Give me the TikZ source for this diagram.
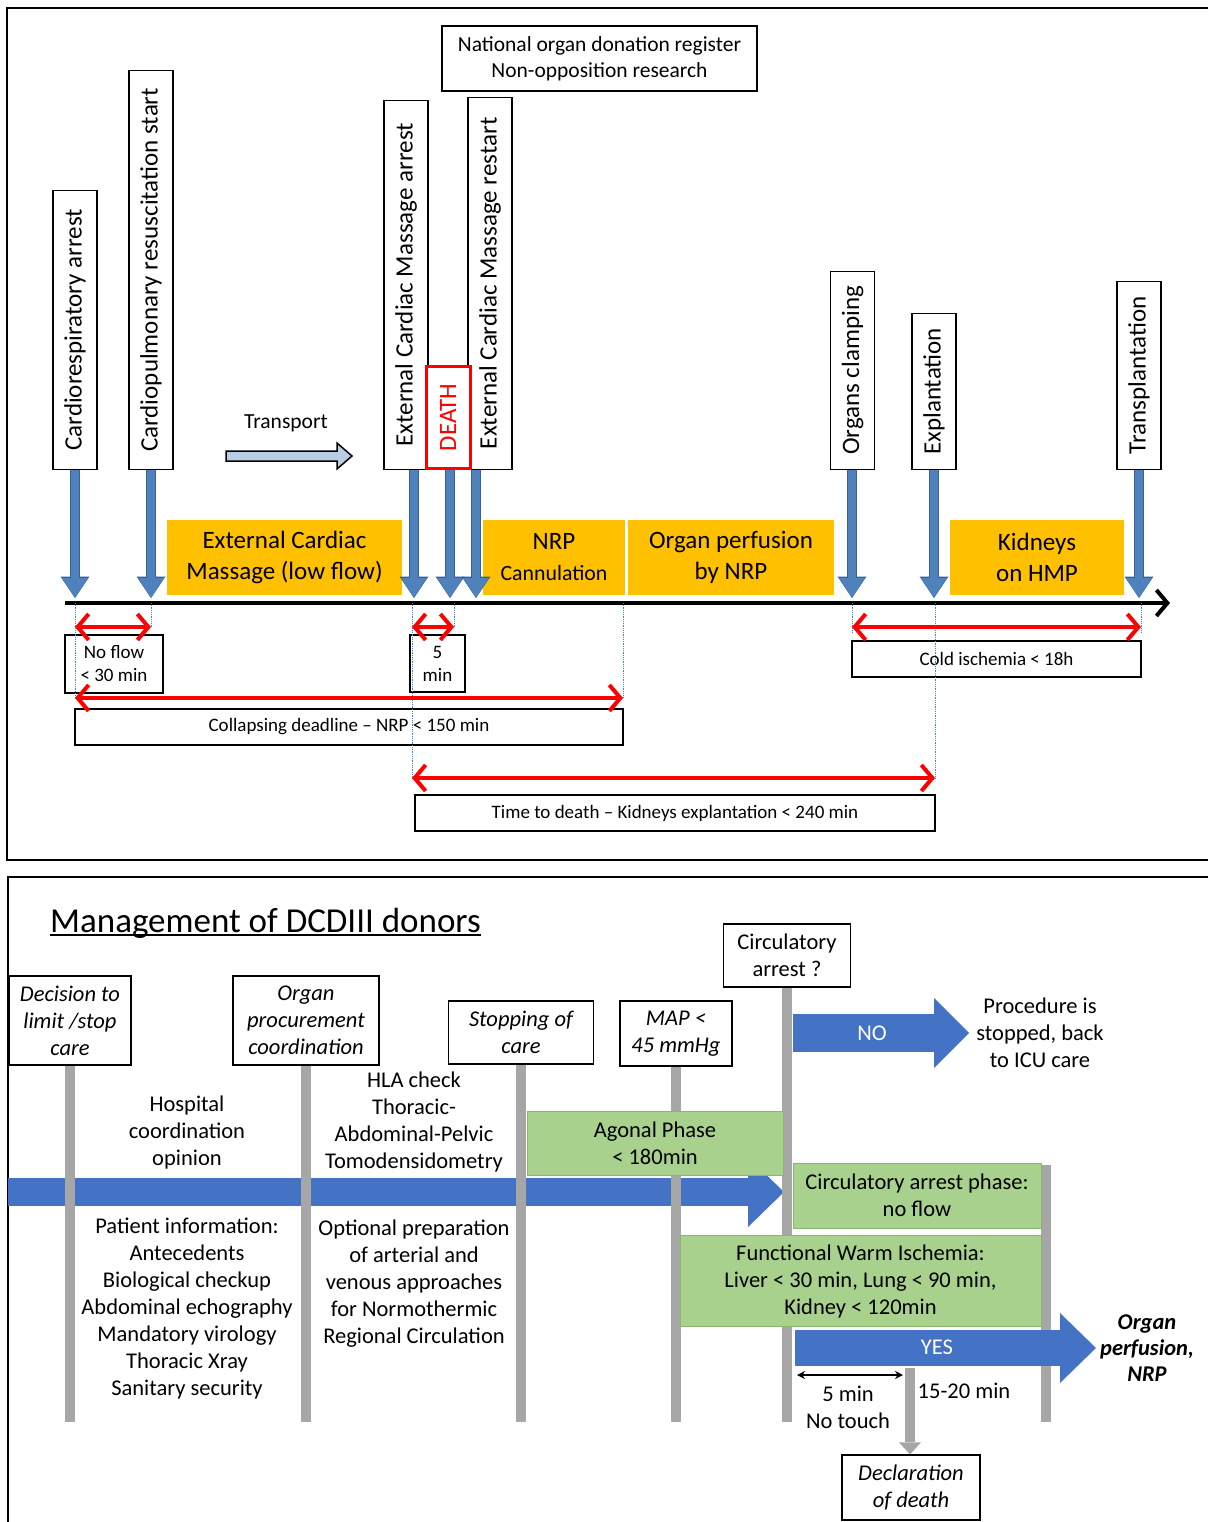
\documentclass[tikz,border=0pt]{standalone}
\usepackage{fontspec}
\setmainfont{Carlito}
\usetikzlibrary{arrows.meta}
\definecolor{tlblue}{HTML}{4F81BD}
\definecolor{tledge}{HTML}{3A6090}
\definecolor{phaseyellow}{HTML}{FFC000}
\definecolor{flowblue}{HTML}{4472C4}
\definecolor{phasegreen}{HTML}{A9D18E}
\definecolor{greenedge}{HTML}{8CB56F}
\definecolor{postgrey}{HTML}{A6A6A6}
\definecolor{transpblue}{HTML}{B9CDE5}

\begin{document}
\begin{tikzpicture}[x=1pt,y=-1pt,
    event/.style={draw,line width=1.3pt,fill=white,rotate=90,anchor=west,minimum height=44pt,inner sep=0pt,font=\fontsize{25}{30}\selectfont},
    drop/.style={tlblue,line width=8pt,-{Triangle[length=20pt,width=26pt,line width=0pt]},
      preaction={draw=tledge,line width=10pt,-{Triangle[length=21.5pt,width=29pt,line width=0pt]}}},
    phase/.style={fill=phaseyellow,align=center,inner sep=0pt,minimum height=75pt,font=\fontsize{25}{31}\selectfont},
    span/.style={red,line width=4pt,{Straight Barb[length=11pt,width=26pt]}-{Straight Barb[length=11pt,width=26pt]}},
    guide/.style={tlblue,line width=0.8pt,densely dotted},
    limit/.style={draw,line width=1.3pt,fill=white,align=center,inner sep=0pt,font=\fontsize{19}{23}\selectfont},
    stage/.style={draw,line width=1.2pt,fill=white,align=center,inner sep=0pt,font=\fontsize{22.5}{27}\selectfont\itshape},
    post/.style={postgrey,line width=10pt},
    window/.style={fill=phasegreen,draw=greenedge,line width=0.8pt,align=center,inner sep=0pt,font=\fontsize{22.5}{27}\selectfont},
    note/.style={align=center,inner sep=0pt,font=\fontsize{22.5}{27}\selectfont},
    flow/.style={flowblue,line width=#1},
    flow/.default=38pt]

  \useasboundingbox (0,0) rectangle (1208,1522);
  \draw[line width=1.5pt] (1208,8) -- (7,8) -- (7,860) -- (1208,860);
  \draw[line width=1.5pt] (1208,877) -- (8,877) -- (8,1522);

  \node[limit,minimum width=315pt,minimum height=65pt,font=\fontsize{21.5}{26}\selectfont] (reg) at (599.5,58.5) {National organ donation register\\Non-opposition research};

  \node[event,minimum width=279pt] (cra)  at (75,470)   {Cardiorespiratory arrest};
  \node[event,minimum width=399pt] (cpr)  at (151,470)  {Cardiopulmonary resuscitation start};
  \node[event,minimum width=369pt] (ecma) at (406,470)  {External Cardiac Massage arrest};
  \node[event,minimum width=372pt] (ecmr) at (490,470)  {External Cardiac Massage restart};
  \node[event,minimum width=102pt,draw=red,line width=3pt,text=red] (death) at (448,470) {DEATH};
  \node[event,minimum width=198pt] (clamp) at (852.5,470) {Organs clamping};
  \node[event,minimum width=156pt] (expl)  at (934,470)   {Explantation};
  \node[event,minimum width=188pt] (trans) at (1139,470)  {Transplantation};

  \node[font=\fontsize{21.5}{26}\selectfont] (trp) at (286,423) {Transport};
  \draw[line width=1.5pt,fill=transpblue] (226,451) -- (337,451) -- (337,443) -- (352,456)
    -- (337,469) -- (337,461) -- (226,461) -- cycle;

  \node[phase,minimum width=235pt] (ecm)  at (284.5,557.5) {External Cardiac\\Massage (low flow)};
  \node[phase,minimum width=142pt] (nrpc) at (554,557.5)   {NRP\\{\fontsize{21.8}{31}\selectfont Cannulation}};
  \node[phase,minimum width=206pt] (opn)  at (731,557.5)   {Organ perfusion\\by NRP};
  \node[phase,minimum width=174pt] (hmp)  at (1037,557.5)  {Kidneys\\on HMP};

  \foreach \n/\x in {d1/75,d2/151,d3/414,d4/450,d5/476,d6/852,d7/934,d8/1139}
    \coordinate (\n) at (\x,598);
  \draw[drop] (d1 |- cra.west) -- (d1);
  \draw[drop] (d2 |- cpr.west) -- (d2);
  \draw[drop] (d3 |- ecma.west) -- (d3);
  \draw[drop] (d4 |- death.west) -- (d4);
  \draw[drop] (d5 |- ecmr.west) -- (d5);
  \draw[drop] (d6 |- clamp.west) -- (d6);
  \draw[drop] (d7 |- expl.west) -- (d7);
  \draw[drop] (d8 |- trans.west) -- (d8);

  \coordinate (t0) at (65,603);
  \coordinate (t1) at (1170,603);
  \draw[line width=4pt,-{Straight Barb[length=11pt,width=26pt]}] (t0) -- (t1);

  \node[limit,minimum width=98pt,minimum height=58pt]  (nf) at (114,664)   {No flow\\< 30 min};
  \node[limit,minimum width=55pt,minimum height=57pt]  (fm) at (437.5,663.5) {5\\min};
  \node[limit,minimum width=548pt,minimum height=36pt] (cd) at (349,727)   {Collapsing deadline -- NRP < 150 min};
  \node[limit,minimum width=289pt,minimum height=36pt] (ci) at (996.5,659) {Cold ischemia < 18h};
  \node[limit,minimum width=520pt,minimum height=36pt] (td) at (675,813)   {Time to death -- Kidneys explantation < 240 min};

  \foreach \n/\x in {a/75,b/151,c/412,d/454,e/623,f/852,g/935,h/1141}
    \coordinate (\n) at (\x,603);
  \coordinate (r1) at (0,627);
  \coordinate (r2) at (0,698);
  \coordinate (r3) at (0,778);
  \draw[guide] (a) -- (a |- r2);
  \draw[guide] (b) -- (b |- r1);
  \draw[guide] (c) -- (c |- r3);
  \draw[guide] (d) -- (d |- r1);
  \draw[guide] (e) -- (e |- r2);
  \draw[guide] (f) -- ([yshift=-6pt]f |- r1);
  \draw[guide] (g) -- (g |- r3);
  \draw[guide] (h) -- ([yshift=-6pt]h |- r1);

  \draw[span] (a |- r1) -- (b |- r1);
  \draw[span] (c |- r1) -- (d |- r1);
  \draw[span] (a |- r2) -- (e |- r2);
  \draw[span] (f |- r1) -- (h |- r1);
  \draw[span] (c |- r3) -- (g |- r3);

  \node[anchor=base west,inner sep=0pt,font=\fontsize{35}{42}\selectfont] (ttl) at (50,932) {Management of DCDIII donors};
  \draw[line width=1.6pt] ([yshift=-3pt]ttl.base west) -- ([yshift=-3pt]ttl.base east);

  \coordinate (fs) at (8,1192);
  \coordinate (ft) at (784,1192);
  \draw[flow=28pt,-{Triangle[length=36pt,width=70pt,line width=0pt]}] (fs) -- (ft);

  \node[stage,minimum width=122pt,minimum height=89pt] (dec) at (70,1020.5)  {Decision to\\limit /stop\\care};
  \node[stage,minimum width=146pt,minimum height=89pt] (opc) at (306,1020.5) {Organ\\procurement\\coordination};
  \node[stage,minimum width=145pt,minimum height=63pt] (soc) at (521,1032.5) {Stopping of\\care};
  \node[stage,minimum width=112pt,minimum height=65pt] (map) at (676,1033.5) {MAP <\\45 mmHg};
  \node[stage,minimum width=127pt,minimum height=63pt,font=\fontsize{22.5}{27}\selectfont] (car) at (787,955.5) {Circulatory\\arrest ?};
  \node[stage,minimum width=138pt,minimum height=65pt] (dod) at (911,1487.5) {Declaration\\of death};

  \coordinate (pend) at (0,1422);
  \coordinate (lp) at (1046,1165);
  \draw[post] (dec.south) -- (dec.south |- pend);
  \draw[post] (opc.south) -- (opc.south |- pend);
  \draw[post] (soc.south) -- (soc.south |- pend);
  \draw[post] (map.south) -- (map.south |- pend);
  \draw[post] (car.south) -- (car.south |- pend);
  \draw[post] (lp) -- (lp |- pend);

  \node[window,minimum width=256pt,minimum height=64pt] (ago) at (655,1143)    {Agonal Phase\\< 180min};
  \node[window,minimum width=248pt,minimum height=65pt] (cap) at (917,1195.5)  {Circulatory arrest phase:\\no flow};
  \node[window,minimum width=361pt,minimum height=91pt] (fwi) at (860.5,1281) {Functional Warm Ischemia:\\Liver < 30 min, Lung < 90 min,\\Kidney < 120min};

  \coordinate (n0) at (793,1033);
  \coordinate (n1) at (969,1033);
  \draw[flow=38pt,-{Triangle[length=35pt,width=70pt,line width=0pt]}] (n0) -- (n1);
  \node[note,text=white] (no) at (872,1033) {NO};
  \coordinate (y0) at (795,1348);
  \coordinate (y1) at (1096,1348);
  \draw[flow=36pt,-{Triangle[length=36pt,width=70pt,line width=0pt]}] (y0) -- (y1);
  \node[note,text=white] (yes) at (937,1347) {YES};

  \coordinate (nt0) at (797,1375);
  \coordinate (nt1) at (903,1375);
  \draw[line width=1.5pt,{Stealth[length=8pt,width=8pt]}-{Stealth[length=8pt,width=8pt]}] (nt0) -- (nt1);
  \coordinate (dp) at (910,1368);
  \draw[post,-{Triangle[length=12pt,width=22pt,line width=0pt]}] (dp) -- (dp |- dod.north);

  \node[note] (hco)  at (187,1132)   {Hospital\\coordination\\opinion};
  \node[note] (hla)  at (414,1121.5) {HLA check\\Thoracic-\\Abdominal-Pelvic\\Tomodensidometry};
  \node[note] (pat)  at (187,1308.5) {Patient information:\\Antecedents\\Biological checkup\\Abdominal echography\\Mandatory virology\\Thoracic Xray\\Sanitary security};
  \node[note] (opt)  at (414,1284)   {Optional preparation\\of arterial and\\venous approaches\\for Normothermic\\Regional Circulation};
  \node[note] (proc) at (1040,1033)  {Procedure is\\stopped, back\\to ICU care};
  \node[note,font=\fontsize{22.5}{26}\selectfont\bfseries\itshape] (orp) at (1147,1348) {Organ\\perfusion,\\NRP};
  \node[note] (ntc)  at (848,1407.5) {5 min\\No touch};
  \node[note] (fft)  at (964,1391)   {15-20 min};
\end{tikzpicture}
\end{document}
